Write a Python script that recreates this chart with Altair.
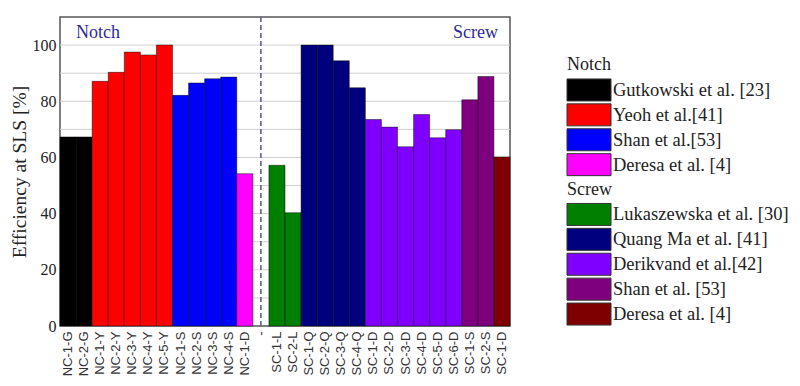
import altair as alt
import pandas as pd

# ---- data ----
labels = ["NC-1-G", "NC-2-G", "NC-1-Y", "NC-2-Y", "NC-3-Y", "NC-4-Y", "NC-5-Y",
          "NC-1-S", "NC-2-S", "NC-3-S", "NC-4-S", "NC-1-D", "-",
          "SC-1-L", "SC-2-L", "SC-1-Q", "SC-2-Q", "SC-3-Q", "SC-4-Q",
          "SC-1-D", "SC-2-D", "SC-3-D", "SC-4-D", "SC-5-D", "SC-6-D",
          "SC-1-S", "SC-2-S", "SC-1-D"]
values = [67.3, 67.3, 87.1, 90.3, 97.5, 96.5, 100.0,
          82.1, 86.5, 88.0, 88.6, 54.2, None,
          57.2, 40.3, 100.0, 100.0, 94.4, 84.8,
          73.5, 70.8, 63.8, 75.3, 67.0, 69.9,
          80.5, 88.8, 60.2]
bar_series = ["N0", "N0", "N1", "N1", "N1", "N1", "N1",
              "N2", "N2", "N2", "N2", "N3", None,
              "S0", "S0", "S1", "S1", "S1", "S1",
              "S2", "S2", "S2", "S2", "S2", "S2",
              "S3", "S3", "S4"]

notch_series = ["Gutkowski et al. [23]", "Yeoh et al.[41]", "Shan et al.[53]", "Deresa et al. [4]"]
notch_colors = ["#000000", "#ff0000", "#0000ff", "#ff00ff"]
screw_series = ["Lukaszewska et al. [30]", "Quang Ma et al. [41]", "Derikvand et al.[42]",
                "Shan et al. [53]", "Deresa et al. [4]"]
screw_colors = ["#007f00", "#00007f", "#7f00ff", "#7f007f", "#7f0000"]

grid_values = [10, 20, 30, 40, 50, 60, 70, 80, 90, 100]
y_ticks = [0, 20, 40, 60, 80, 100]

# ---- tables ----
keys = [f"{i:02d}|{l}" for i, l in enumerate(labels)]
df = pd.DataFrame({"key": keys, "value": values, "series": bar_series})
df_bars = df[df["value"].notna()]
gap_key = keys[labels.index("-")]

color_domain = [f"N{i}" for i in range(len(notch_series))] + [f"S{i}" for i in range(len(screw_series))]
color_range = notch_colors + screw_colors
fill_scale = alt.Scale(domain=color_domain, range=color_range)

serif = "'Liberation Serif', 'Times New Roman', Times, serif"
sans = "'Liberation Sans', Arial, sans-serif"

x_scale = alt.Scale(domain=keys, paddingInner=0, paddingOuter=0)
x_axis = alt.Axis(title=None, labelAngle=-90, labelExpr="split(datum.value,'|')[1]",
                  labelFont=sans, labelFontSize=13, labelColor="#333",
                  ticks=False, domain=False, labelPadding=5, labelOverlap=False)
y_scale = alt.Scale(domain=[0, 110], nice=False)
y_axis = alt.Axis(values=y_ticks, grid=False, ticks=False, domain=False,
                  title="Efficiency at SLS [%]", titleFont=serif, titleFontSize=19.5,
                  titleFontWeight="normal", titleColor="#222", titlePadding=3,
                  labelFont=serif, labelFontSize=16, labelColor="#222", labelPadding=4)

grid = alt.Chart(pd.DataFrame({"g": grid_values})).mark_rule(color="#d0d0d0", strokeWidth=1).encode(
    y=alt.Y("g:Q", scale=y_scale, axis=y_axis))

bars = alt.Chart(df_bars).mark_bar(stroke="#000000", strokeOpacity=0.45, strokeWidth=1).encode(
    x=alt.X("key:N", scale=x_scale, sort=keys, axis=x_axis),
    y=alt.Y("value:Q", scale=y_scale, axis=y_axis),
    fill=alt.Fill("series:N", scale=fill_scale, legend=None))

dash = alt.Chart(pd.DataFrame({"key": [gap_key]})).mark_rule(
    color="#55558a", strokeDash=[5, 3], strokeWidth=1.5).encode(
    x=alt.X("key:N", scale=x_scale, sort=keys, axis=x_axis))

notch_txt = alt.Chart(pd.DataFrame({"t": ["Notch"]})).mark_text(
    align="left", baseline="alphabetic", font=serif, fontSize=18, color="#2a2a9a").encode(
    x=alt.value(16), y=alt.value(21), text="t:N")
screw_txt = alt.Chart(pd.DataFrame({"t": ["Screw"]})).mark_text(
    align="right", baseline="alphabetic", font=serif, fontSize=18, color="#2a2a9a").encode(
    x=alt.value(438), y=alt.value(21), text="t:N")

main = alt.layer(grid, bars, dash, notch_txt, screw_txt).properties(
    width=450, height=309, view=alt.ViewBackground(stroke="#555555", strokeWidth=1.5))

# ---- custom grouped legend ----
leg_text = ["Notch"] + notch_series + ["Screw"] + screw_series
leg_key = [None] + [f"N{i}" for i in range(len(notch_series))] + [None] + [f"S{i}" for i in range(len(screw_series))]
leg_rows = list(range(len(leg_text)))
leg = pd.DataFrame({"row": leg_rows, "text": leg_text, "key": leg_key,
                    "header": [k is None for k in leg_key]})
y_leg = alt.Y("row:Q", scale=alt.Scale(domain=[-1.93, 10.48], reverse=True, nice=False, zero=False),
              axis=None)

base = alt.Chart(leg)
headers = base.transform_filter("datum.header").mark_text(
    align="left", baseline="middle", font=serif, fontSize=18, color="#222").encode(
    x=alt.value(0), y=y_leg, text="text:N")
swatches = base.transform_filter("!datum.header").mark_point(
    shape="M-1,-0.5L1,-0.5L1,0.5L-1,0.5Z", filled=True, size=1936, opacity=1,
    stroke="#333333", strokeWidth=1).encode(
    x=alt.value(22), y=y_leg, fill=alt.Fill("key:N", scale=fill_scale, legend=None))
entries = base.transform_filter("!datum.header").mark_text(
    align="left", baseline="middle", font=serif, fontSize=18.5, color="#222").encode(
    x=alt.value(46), y=y_leg, text="text:N")

legend = alt.layer(swatches, headers, entries).properties(
    width=200, height=309, view=alt.ViewBackground(strokeOpacity=0))

chart = alt.hconcat(main, legend, spacing=53).properties(
    padding={"left": 0, "top": 7, "right": 0, "bottom": 0}
).configure_view(stroke=None)

chart.save("out.html", embed_options={"renderer": "svg", "actions": False})
